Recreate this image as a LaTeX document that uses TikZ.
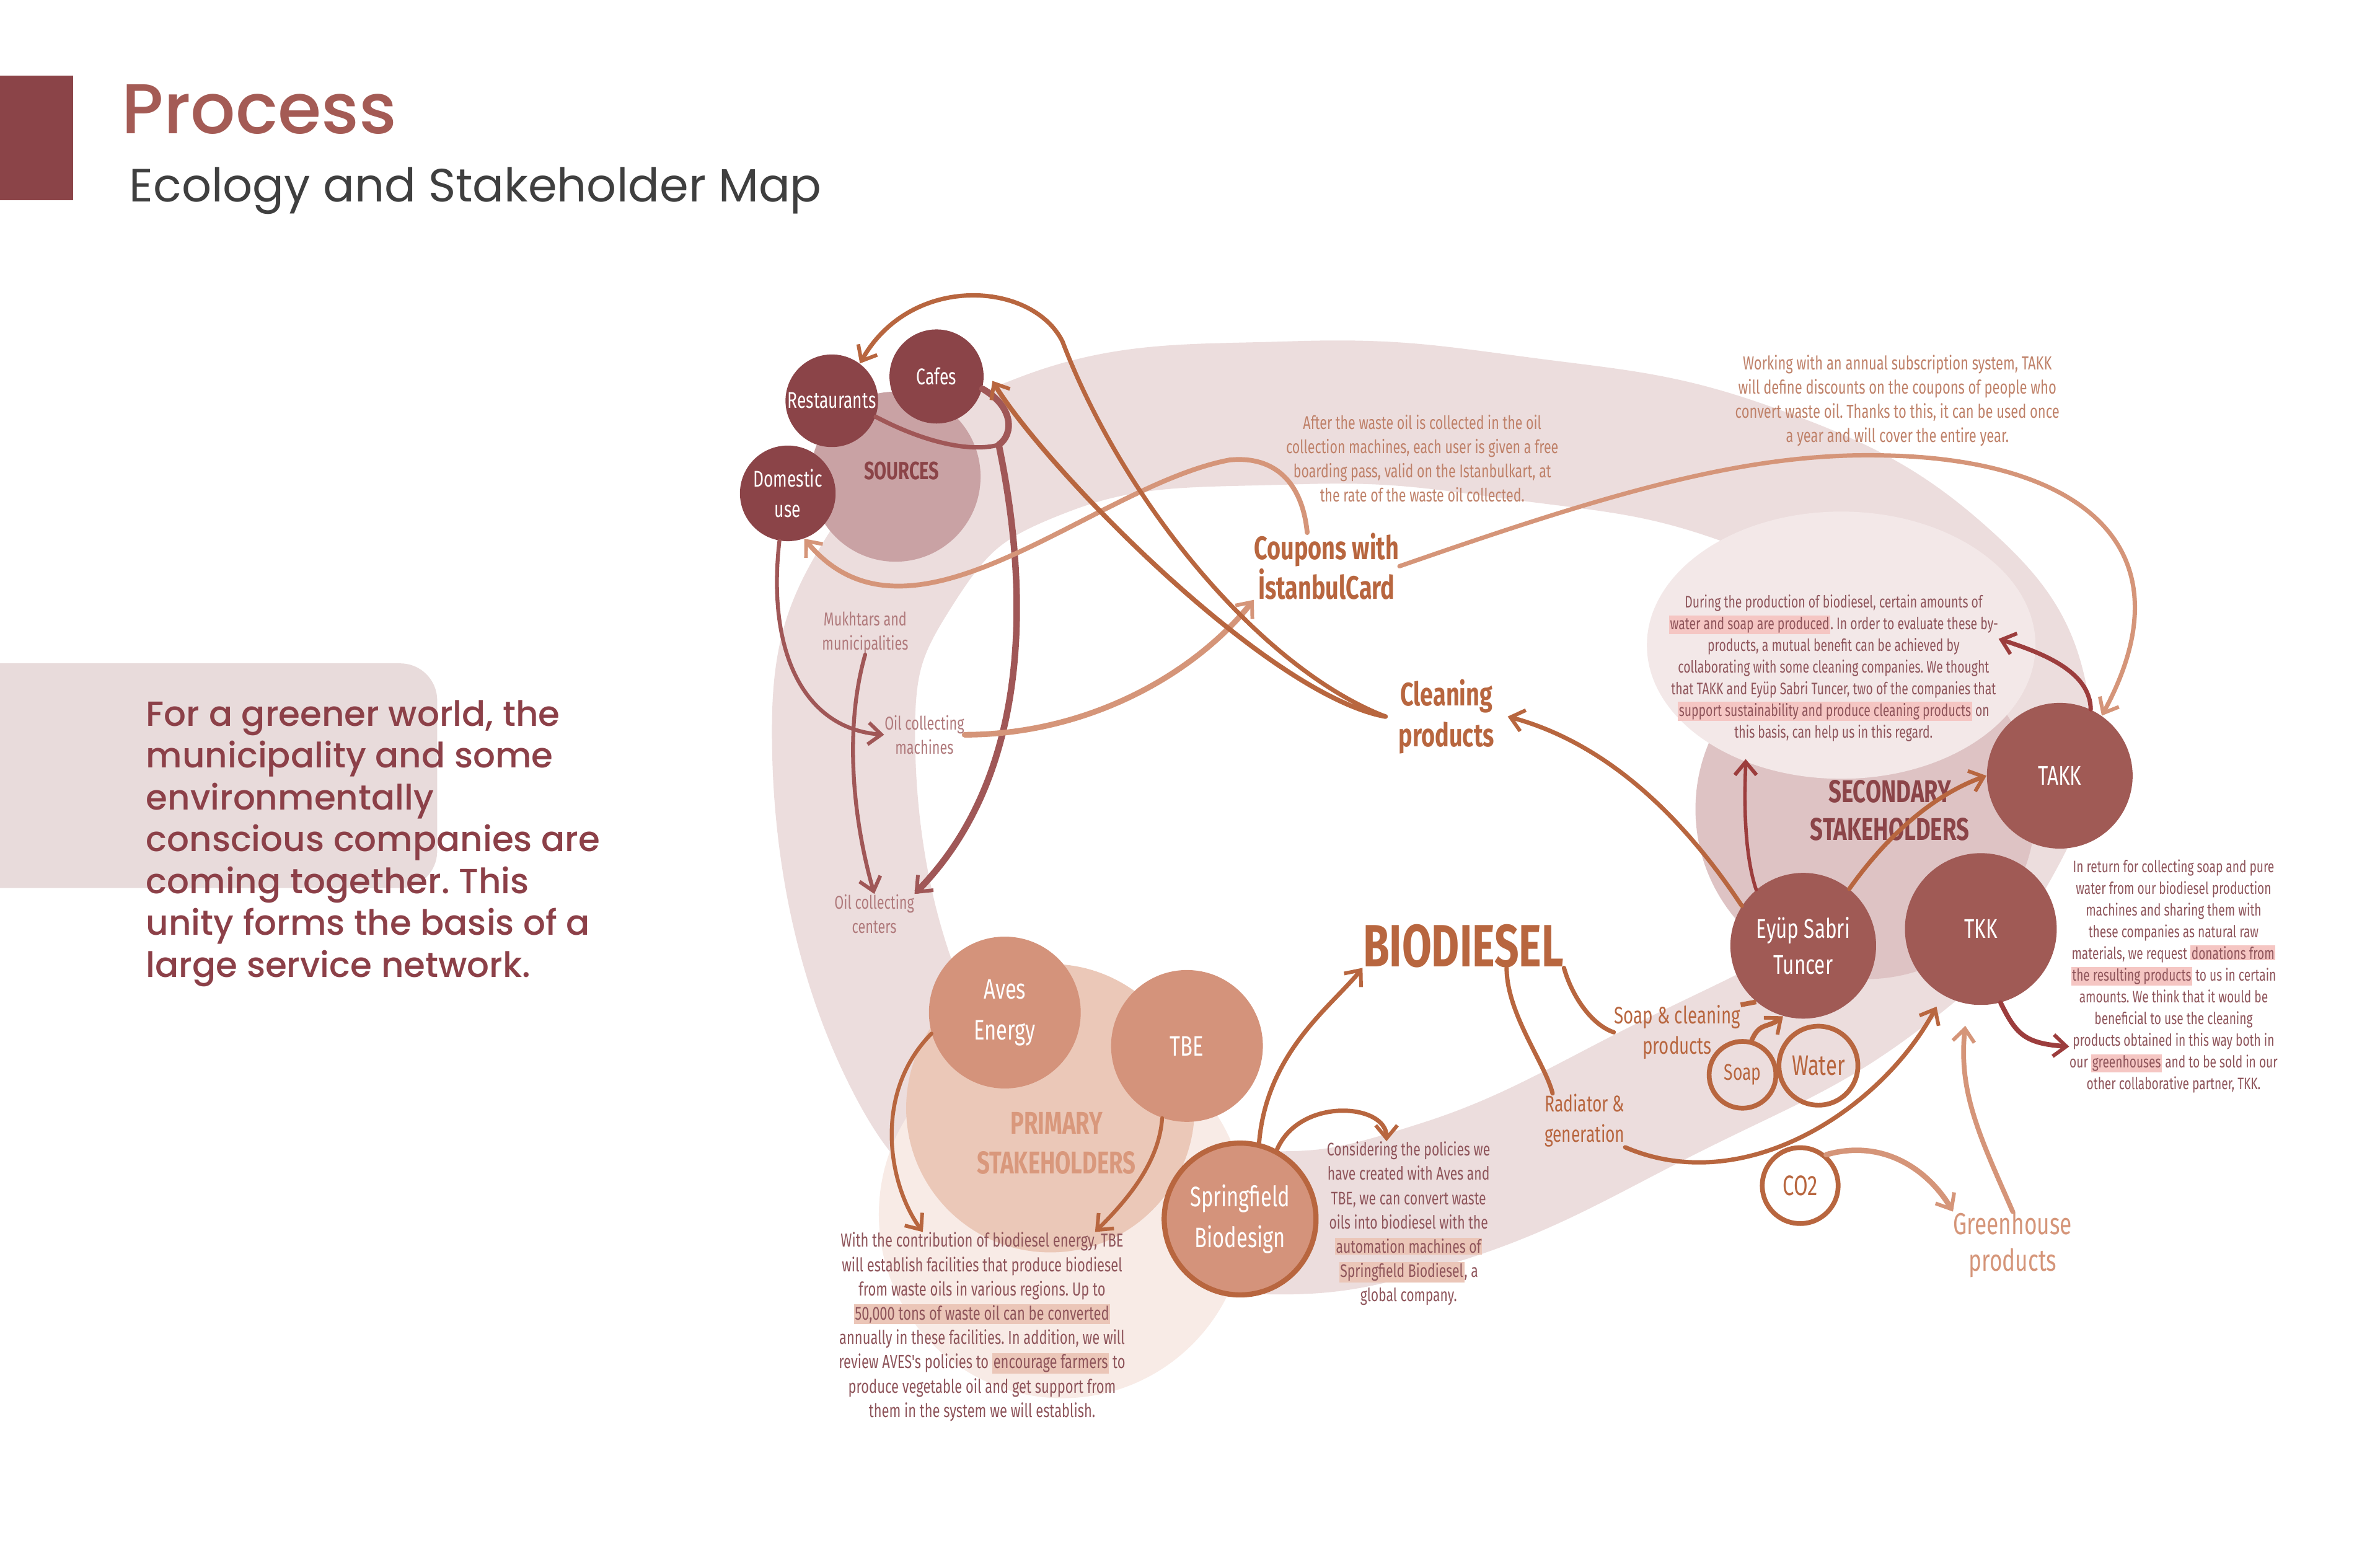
\documentclass[tikz,border=0pt]{standalone}
\usepackage{fontspec}
\setmainfont{Fira Sans}
\newfontfamily\condfont[FakeStretch=0.72]{Fira Sans}
\newfontfamily\popfont{Poppins}
\newfontfamily\popmedfont{Poppins Medium}
\usetikzlibrary{arrows.meta}
\definecolor{Maroon}{HTML}{8B4448}
\definecolor{TitleRed}{HTML}{A45B55}
\definecolor{SubGray}{HTML}{3F3F3F}
\definecolor{Panel}{HTML}{E8DBDB}
\definecolor{ParaRed}{HTML}{8C4048}
\definecolor{Band}{HTML}{ECDDDD}
\definecolor{SrcMauve}{HTML}{C9A2A4}
\definecolor{Rust}{HTML}{B8663F}
\definecolor{LightRust}{HTML}{D59579}
\definecolor{Copper}{HTML}{BF8169}
\definecolor{BodyRed}{HTML}{8E545A}
\definecolor{MauveText}{HTML}{B07A7C}
\definecolor{Brick}{HTML}{A05A55}
\definecolor{SecMid}{HTML}{DEC3C4}
\definecolor{SecLight}{HTML}{F3E8E8}
\definecolor{Salmon}{HTML}{D4937B}
\definecolor{PrimMid}{HTML}{EBC8B8}
\definecolor{PrimLight}{HTML}{F8EBE6}
\definecolor{LabelPeach}{HTML}{D9987C}
\definecolor{DustyRed}{HTML}{A05757}
\definecolor{DeepRed}{HTML}{9C3D3D}
\definecolor{HiPink}{HTML}{F5C6C3}
\definecolor{HiPeach}{HTML}{EBC6B8}
\newcommand\hlpink[1]{{\setlength{\fboxsep}{0.5pt}\colorbox{HiPink}{#1}}}
\newcommand\hlpeach[1]{{\setlength{\fboxsep}{0.5pt}\colorbox{HiPeach}{#1}}}
\frenchspacing
\begin{document}
\begin{tikzpicture}[x=0.7pt,y=-0.7pt,
  >={Straight Barb[length=6pt,width=10pt,line width=1.7pt]},
  flow/.style={->,line width=1.8pt,line cap=round},
  bubble/.style={circle,inner sep=0pt,minimum size=#1*1.4pt,text=white,align=center,
    font=\condfont\fontsize{10.5}{14}\selectfont},
  ring/.style={circle,inner sep=0pt,minimum size=#1*1.4pt,draw=Rust,line width=2.2pt,text=Rust},
  blurb/.style={align=center,inner sep=0pt,font=\condfont\fontsize{8.5}{11.2}\selectfont},
  tag/.style={align=center,inner sep=0pt,text=MauveText,font=\condfont\fontsize{8.6}{11.2}\selectfont},
  heading/.style={align=center,inner sep=0pt,font=\condfont\bfseries\fontsize{14.5}{17.5}\selectfont}]
  \useasboundingbox (0,0) rectangle (1568,1015);
  \fill[white] (0,0) rectangle (1568,1015);
  % header and intro
  \fill[Maroon] (0,50) rectangle (48,132);
  \node[anchor=base west,inner sep=0pt,text=TitleRed,font=\popmedfont\fontsize{32.5}{33}\selectfont] (title) at (80,88) {Process};
  \node[anchor=base west,inner sep=0pt,text=SubGray,font=\popfont\fontsize{21.5}{22}\selectfont] (subtitle) at (85,133) {Ecology and Stakeholder Map};
  \fill[Panel,rounded corners=17pt] (-40,437) rectangle (288,585);
  \node[anchor=north west,align=left,inner sep=0pt,text=ParaRed,font=\popmedfont\fontsize{16.1}{19.3}\selectfont] (intro) at (96,461)
    {For a greener world, the\\municipality and some\\environmentally\\conscious companies are\\coming together. This\\unity forms the basis of a\\large service network.};
  % the ecology loop and the stakeholder groups
  \draw[Band,line width=66pt] plot[smooth cycle,tension=0.75] coordinates {(556,500) (590,370) (690,292) (850,272) (1000,282) (1150,312) (1275,380) (1330,470) (1305,565) (1230,645) (1100,716) (950,785) (820,805) (690,775) (600,690)};
  \fill[SecMid] (1229,533) circle[radius=112];
  \fill[SecLight] (1213,425) ellipse[x radius=128,y radius=88];
  \fill[PrimLight] (700,800) circle[radius=121];
  \fill[PrimMid] (692,730) circle[radius=95];
  \fill[SrcMauve] (590,314) circle[radius=56];
  \node[heading,text=Maroon,font=\condfont\bfseries\fontsize{11.5}{14}\selectfont] (srclabel) at (594,310) {SOURCES};
  \node[heading,text=Maroon] (seclabel) at (1245,534) {SECONDARY\\STAKEHOLDERS};
  \node[heading,text=LabelPeach,font=\condfont\bfseries\fontsize{14.5}{18.2}\selectfont] (primlabel) at (696,753) {PRIMARY\\STAKEHOLDERS};
  \node[tag] (mukh) at (570,417) {Mukhtars and\\municipalities};
  \node[tag] (oilm) at (609,484) {Oil collecting\\machines};
  \node[tag] (oilc) at (576,602) {Oil collecting\\centers};
  \node[blurb,text=Copper] (coupontext) at (937,302) {After the waste oil is collected in the oil\\collection machines, each user is given a free\\boarding pass, valid on the Istanbulkart, at\\the rate of the waste oil collected.};
  \node[heading,text=Rust,font=\condfont\bfseries\fontsize{15}{18.2}\selectfont] (coupons) at (874,373) {Coupons with\\İstanbulCard};
  \node[blurb,text=Copper,font=\condfont\fontsize{8.7}{11.2}\selectfont] (takktext) at (1250,264) {Working with an annual subscription system, TAKK\\will define discounts on the coupons of people who\\convert waste oil. Thanks to this, it can be used once\\a year and will cover the entire year.};
  \node[heading,text=Rust,inner sep=6pt,font=\condfont\bfseries\fontsize{15}{18.9}\selectfont] (cleaning) at (953,472) {Cleaning\\products};
  \node[blurb,text=BodyRed,font=\condfont\fontsize{7.7}{10}\selectfont] (sectext) at (1208,440) {During the production of biodiesel, certain amounts of\\\hlpink{water and soap are produced}. In order to evaluate these by-\\products, a mutual benefit can be achieved by\\collaborating with some cleaning companies. We thought\\that TAKK and Eyüp Sabri Tuncer, two of the companies that\\\hlpink{support sustainability and produce cleaning products} on\\this basis, can help us in this regard.};
  \node[blurb,text=BodyRed,font=\condfont\fontsize{7.6}{10}\selectfont] (rtext) at (1432,643) {In return for collecting soap and pure\\water from our biodiesel production\\machines and sharing them with\\these companies as natural raw\\materials, we request \hlpink{donations from}\\\hlpink{the resulting products} to us in certain\\amounts. We think that it would be\\beneficial to use the cleaning\\products obtained in this way both in\\our \hlpink{greenhouses} and to be sold in our\\other collaborative partner, TKK.};
  \node[blurb,text=BodyRed,font=\condfont\fontsize{8.7}{11.2}\selectfont] (primtext) at (647,874) {With the contribution of biodiesel energy, TBE\\will establish facilities that produce biodiesel\\from waste oils in various regions. Up to\\\hlpeach{50,000 tons of waste oil can be converted}\\annually in these facilities. In addition, we will\\review AVES's policies to \hlpeach{encourage farmers} to\\produce vegetable oil and get support from\\them in the system we will establish.};
  \node[blurb,text=BodyRed,font=\condfont\fontsize{8.4}{11.2}\selectfont] (consider) at (928,806) {Considering the policies we\\have created with Aves and\\TBE, we can convert waste\\oils into biodiesel with the\\\hlpeach{automation machines of}\\\hlpeach{Springfield Biodiesel}, a\\global company.};
  \node[heading,text=Rust,font=\condfont\bfseries\fontsize{27.5}{28}\selectfont] (biodiesel) at (964,623) {BIODIESEL};
  \node[tag,text=Rust,font=\condfont\fontsize{11}{14}\selectfont] (soapclean) at (1105,680) {Soap \& cleaning\\products};
  \node[tag,text=Rust,font=\condfont\fontsize{10.5}{14}\selectfont] (radiator) at (1044,738) {Radiator \&\\generation};
  \node[tag,text=LightRust,font=\condfont\fontsize{14}{16.8}\selectfont] (green) at (1326,820) {Greenhouse\\products};
  % stakeholders
  \node[bubble=30.5,fill=Maroon] (rest) at (548,264) {Restaurants};
  \node[bubble=31,fill=Maroon] (cafe) at (617,248) {Cafes};
  \node[bubble=31.5,fill=Maroon] (dom) at (519,325) {Domestic\\use};
  \node[bubble=48,fill=Brick,font=\condfont\fontsize{12.5}{16.8}\selectfont] (takk) at (1357,511) {TAKK};
  \node[bubble=50,fill=Brick,font=\condfont\fontsize{12.5}{16.8}\selectfont] (tkk) at (1305,612) {TKK};
  \node[bubble=48,fill=Brick,font=\condfont\fontsize{12.5}{16.8}\selectfont] (eyup) at (1188,623) {Eyüp Sabri\\Tuncer};
  \node[bubble=50,fill=Salmon,font=\condfont\fontsize{13}{19}\selectfont] (aves) at (662,667) {Aves\\Energy};
  \node[bubble=50,fill=Salmon,font=\condfont\fontsize{13}{19}\selectfont] (tbe) at (782,689) {TBE};
  \node[bubble=50,fill=Salmon,draw=Rust,line width=2.4pt,font=\condfont\fontsize{13}{19}\selectfont] (spring) at (817,803) {Springfield\\Biodesign};
  \node[ring=22,font=\condfont\fontsize{10.5}{12}\selectfont] (soap) at (1148,708) {Soap};
  \node[ring=26,font=\condfont\fontsize{13}{14}\selectfont] (water) at (1198,702) {Water};
  \node[ring=25,font=\condfont\fontsize{13}{14}\selectfont] (co2) at (1186,781) {CO2};
  % connectors
  \coordinate (srcjoin) at (658,293);
  \draw[DustyRed,line width=2pt,line cap=round] (rest.-20) .. controls (610,292) and (640,298) .. (srcjoin);
  \draw[DustyRed,line width=3pt,line cap=round] (cafe.-15) .. controls (668,268) and (668,286) .. (srcjoin);
  \draw[flow,DustyRed,line width=3pt] (srcjoin) .. controls (672,360) and (690,500) .. (oilc.north east);
  \draw[flow,DustyRed] (dom.-100) .. controls (505,430) and (530,480) .. (oilm.west);
  \draw[flow,DustyRed] (mukh.south) .. controls (556,480) and (562,540) .. (oilc.north);
  \draw[flow,LightRust,line width=2.6pt] (oilm.east) .. controls +(80,0) and +(-40,50) .. (coupons.south west);
  \draw[flow,LightRust,line width=2.2pt] (coupons.120) .. controls (858,318) and (840,300) .. (810,303)
    .. controls (720,320) and (600,440) .. (dom.-70);
  \draw[flow,LightRust,line width=2pt] (coupons.east) .. controls (1060,325) and (1150,298) .. (1240,300)
    .. controls (1370,302) and (1445,360) .. (takk.55);
  \draw[flow,Rust,line width=2.2pt,shorten >=9pt] (cleaning.west) .. controls (833,457) and (687,306) .. (cafe.15);
  \draw[flow,Rust,line width=2pt] (cleaning.west) .. controls (830,440) and (740,330) .. (700,225)
    .. controls (680,185) and (600,180) .. (rest.53);
  \draw[flow,DeepRed,line width=2pt] (takk.65) .. controls (1377,442) and (1345,430) .. (sectext.10);
  \draw[flow,Rust,line width=2pt] (eyup.51) .. controls (1240,555) and (1270,525) .. (takk.180);
  \draw[flow,DeepRed,line width=1.6pt,shorten >=8pt] (eyup.130) .. controls +(-10,-30) and +(0,20) .. (sectext.-140);
  \draw[flow,Rust,line width=2pt] (eyup.147) .. controls (1110,540) and (1060,490) .. (cleaning.east);
  \draw[flow,DeepRed,line width=2.2pt] (tkk.-75) .. controls +(10,20) and +(-30,-2) .. (rtext.-146);
  \draw[flow,Rust,line width=2.2pt] (soap.75) .. controls +(5,-12) and +(-10,8) .. (eyup.-106);
  \draw[Rust,line width=2.2pt] (soapclean.north east) -- (eyup.-130);
  \draw[flow,Rust,line width=2pt,shorten >=6pt] (radiator.south east) .. controls (1150,790) and (1240,730) .. (tkk.-120);
  \draw[flow,LightRust,line width=2.5pt] (co2.50) .. controls (1240,750) and (1270,770) .. (green.north west);
  \draw[flow,LightRust,line width=2.2pt,shorten >=10pt] (green.north) .. controls (1305,750) and (1290,720) .. (tkk.-100);
  \draw[flow,Rust,line width=2pt] (spring.76) .. controls +(5,-60) and +(-20,25) .. (biodiesel.south west);
  \draw[flow,Rust,line width=2pt] (spring.62) .. controls +(15,-35) and +(0,-25) .. (consider.105);
  \draw[flow,Rust,line width=1.8pt] (aves.196) .. controls (575,720) and (585,780) .. (primtext.122);
  \draw[flow,Rust,line width=1.8pt] (tbe.-109) .. controls +(-2,30) and +(20,-20) .. (primtext.40);
  \draw[Rust,line width=2pt,line cap=round] (biodiesel.-27) .. controls +(0,30) and +(-5,-20) .. (radiator.140);
  \draw[Rust,line width=2pt,line cap=round] (biodiesel.south east) .. controls +(5,18) and +(-15,-5) .. (soapclean.west);
\end{tikzpicture}
\end{document}
